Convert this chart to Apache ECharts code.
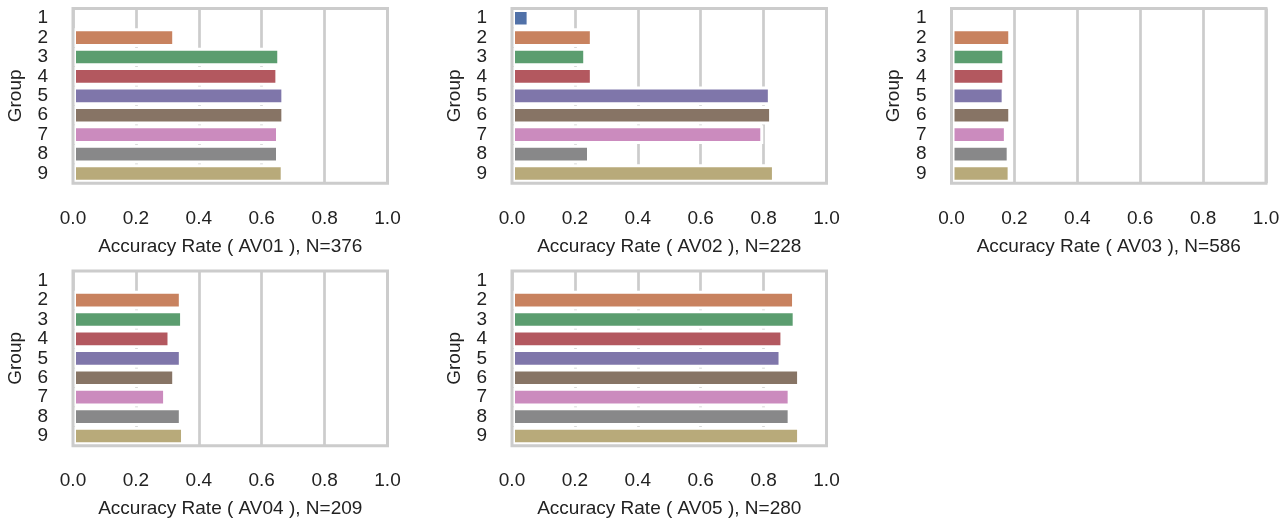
<!DOCTYPE html>
<html>
<head>
<meta charset="utf-8">
<script src="https://cdn.jsdelivr.net/npm/echarts@6/dist/echarts.min.js"></script>
<style>
  html, body { margin: 0; padding: 0; background: #ffffff; }
  #chart { width: 1288px; height: 521px; }
</style>
</head>
<body>
<div id="chart"></div>
<script>
// Group labels on the category axis
const groups = ['1', '2', '3', '4', '5', '6', '7', '8', '9'];

// Accuracy rate per group for each AV item (null = no responses in that group)
const av01 = [null, 0.325, 0.659, 0.653, 0.672, 0.672, 0.655, 0.655, 0.670];
const av02 = [0.056, 0.257, 0.236, 0.257, 0.823, 0.827, 0.799, 0.248, 0.836];
const av03 = [null, 0.190, 0.171, 0.171, 0.169, 0.190, 0.176, 0.185, 0.188];
const av04 = [null, 0.346, 0.350, 0.310, 0.346, 0.325, 0.296, 0.346, 0.353];
const av05 = [null, 0.900, 0.902, 0.863, 0.857, 0.916, 0.886, 0.886, 0.916];

// Axis titles
const titles = [
  'Accuracy Rate ( AV01 ), N=376',
  'Accuracy Rate ( AV02 ), N=228',
  'Accuracy Rate ( AV03 ), N=586',
  'Accuracy Rate ( AV04 ), N=209',
  'Accuracy Rate ( AV05 ), N=280'
];

// Accuracy axis ticks
const xTicks = [0.0, 0.2, 0.4, 0.6, 0.8, 1.0];

// One colour per group (muted "deep" palette)
const palette = ['#5171a8', '#c8825f', '#5b9d6f', '#b3585f', '#7f76aa',
                 '#877465', '#cb8bbe', '#888889', '#b8aa7a'];

const panels = [av01, av02, av03, av04, av05];
const gridPos = [
  { left: 73,    top: 8.5 },
  { left: 512,   top: 8.5 },
  { left: 951.5, top: 8.5 },
  { left: 73,    top: 271 },
  { left: 512,   top: 271 }
];

const FONT = '"Liberation Sans", Arial, sans-serif';
const FS = 19;
const TEXT = '#222222';
const LINE = '#cccccc';

const grid = [], xAxis = [], yAxis = [], series = [];
panels.forEach((vals, i) => {
  grid.push({
    left: gridPos[i].left, top: gridPos[i].top, width: 314.5, height: 174.7,
    show: true, borderColor: LINE, borderWidth: 3, backgroundColor: 'transparent',
    z: 5
  });
  xAxis.push({
    type: 'value', gridIndex: i,
    min: xTicks[0], max: xTicks[xTicks.length - 1],
    interval: xTicks[1] - xTicks[0],
    name: titles[i], nameLocation: 'middle', nameGap: 54,
    nameTextStyle: { fontFamily: FONT, fontSize: FS, color: TEXT },
    axisLine: { show: false }, axisTick: { show: false },
    axisLabel: {
      margin: 26, fontFamily: FONT, fontSize: FS, color: TEXT,
      formatter: v => v.toFixed(1)
    },
    splitLine: { show: true, lineStyle: { color: LINE, width: 2.7 } }
  });
  yAxis.push({
    type: 'category', gridIndex: i, data: groups, inverse: true,
    name: 'Group', nameLocation: 'middle', nameGap: 48, nameRotate: 90,
    nameTextStyle: { fontFamily: FONT, fontSize: FS, color: TEXT },
    axisLine: { show: false }, axisTick: { show: false },
    axisLabel: { interval: 0, margin: 25, fontFamily: FONT, fontSize: FS, color: TEXT },
    splitLine: { show: false }
  });
  series.push({
    type: 'bar', xAxisIndex: i, yAxisIndex: i,
    data: vals,
    barWidth: '96%',
    itemStyle: {
      color: p => palette[p.dataIndex],
      borderColor: '#ffffff', borderWidth: 3
    },
    emphasis: { disabled: true },
    animation: false
  });
});

const chart = echarts.init(document.getElementById('chart'), null, { renderer: 'canvas' });
chart.setOption({
  backgroundColor: '#ffffff',
  animation: false,
  grid, xAxis, yAxis, series
});
</script>
</body>
</html>
